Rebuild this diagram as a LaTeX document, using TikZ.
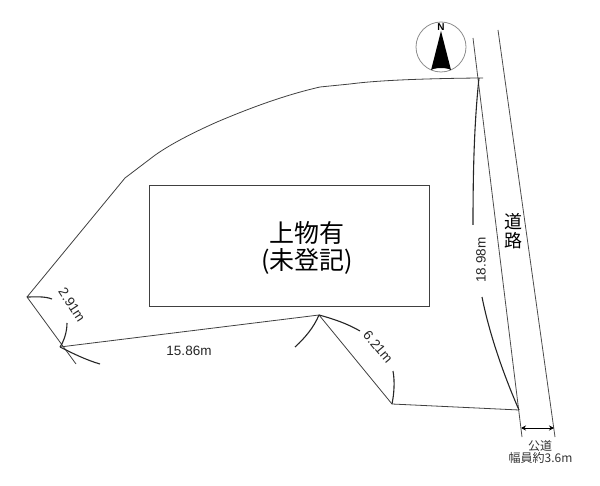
\documentclass[tikz,border=0pt]{standalone}
\usepackage{fontspec}
\setmainfont{Liberation Sans}
\newfontfamily\cjk{Noto Sans CJK JP}
\usetikzlibrary{arrows.meta}
\tikzset{
  site/.style={draw=black!75,line width=0.8pt},
  road/.style={draw=black!70,line width=0.8pt},
  swing/.style={draw=black!85,line width=1.1pt},
  dim/.style={font=\fontsize{13.5}{13.5}\selectfont,inner sep=0pt,text=black!85},
  bigtext/.style={font=\cjk\fontsize{25}{27}\selectfont,inner sep=0pt,align=center},
  smalltext/.style={font=\cjk\fontsize{12}{12}\selectfont,inner sep=0pt,text=black!80}
}
\begin{document}
\begin{tikzpicture}[x=1pt,y=-1pt]
\useasboundingbox (0,0) rectangle (600,486);
\coordinate (A) at (27,297);
\coordinate (B) at (60,347);
\coordinate (C) at (319,315);
\coordinate (D) at (392,404);
\coordinate (E) at (519,410);
\coordinate (F) at (479,78);
\coordinate (G) at (125,178);
\coordinate (Atail) at (76,364);
\coordinate (Ftail) at (483,78);
\coordinate (Rtop) at (473,38);
\coordinate (Rbot) at (522,437);
\coordinate (Ltop) at (498,30);
\coordinate (Lbot) at (555,437);
\coordinate (W1) at (521,428);
\coordinate (W2) at (554,428);
% site boundary
\draw[site] (Ftail) -- (F) .. controls (430,78.5) and (380,80) .. (350,84)
  -- (320,87) .. controls (285,95) and (250,108) .. (217,122)
  .. controls (190,134) and (165,147) .. (150,159) -- (G) -- (A) -- (Atail);
\draw[site] (B) -- (C) -- (D) -- (E);
\draw[road] (Rtop) -- (Rbot);
\draw[road] (Ltop) -- (Lbot);
% building
\node[draw=black!75,line width=0.8pt,minimum width=280pt,minimum height=121pt,inner sep=0pt] (bld) at (289,245.5) {};
\node[bigtext] (bt) at (307,248) {上物有\\(未登記)};
% swing arcs
\coordinate (a1) at (52,299);
\coordinate (b1) at (67,323);
\coordinate (b2) at (100,364);
\coordinate (c1) at (295,347);
\coordinate (c2) at (360,331);
\coordinate (d1) at (393,371);
\coordinate (f1) at (473,225);
\coordinate (e1) at (482,297);
\draw[swing] (A) .. controls (35,297) and (44,296) .. (a1);
\draw[swing] (b1) .. controls (67,332) and (64,341) .. (B);
\draw[swing] (B) .. controls (72,353) and (86,360) .. (b2);
\draw[swing] (c1) .. controls (305,338) and (314,327) .. (C);
\draw[swing] (C) .. controls (334,319) and (348,324) .. (c2);
\draw[swing] (d1) .. controls (395,382) and (394,394) .. (D);
\draw[swing] (F) .. controls (474,125) and (473,175) .. (f1);
\draw[swing] (e1) .. controls (490,337) and (505,378) .. (E);
% width arrow
\draw[{Stealth[length=5pt,width=5pt]}-{Stealth[length=5pt,width=5pt]},line width=0.8pt] (W1) -- (W2);
% labels
\node[dim,rotate=-57] (l1) at (72,305) {2.91m};
\node[dim] (l2) at (189,351) {15.86m};
\node[dim,rotate=-50] (l3) at (378,347) {6.21m};
\node[dim,rotate=90] (l4) at (481,260) {18.98m};
\node[font=\cjk\fontsize{18}{18.5}\selectfont,inner sep=0pt,align=center] (rd) at (513,231) {道\\路};
\node[smalltext] (pub) at (540,446) {公道};
\node[smalltext] (wd) at (540.5,458) {幅員約3.6m};
% north mark
\node[draw=black!45,circle,line width=0.8pt,minimum size=50pt,inner sep=0pt] (comp) at (441,47) {};
\fill (441,31) coordinate (ntop) -- (451,70) arc[start angle=20,end angle=160,x radius=10.6,y radius=-3] -- cycle;
\node[font=\bfseries\fontsize{10}{10}\selectfont\rmfamily,inner sep=0pt] (nn) at (441,27) {N};
\end{tikzpicture}
\end{document}
